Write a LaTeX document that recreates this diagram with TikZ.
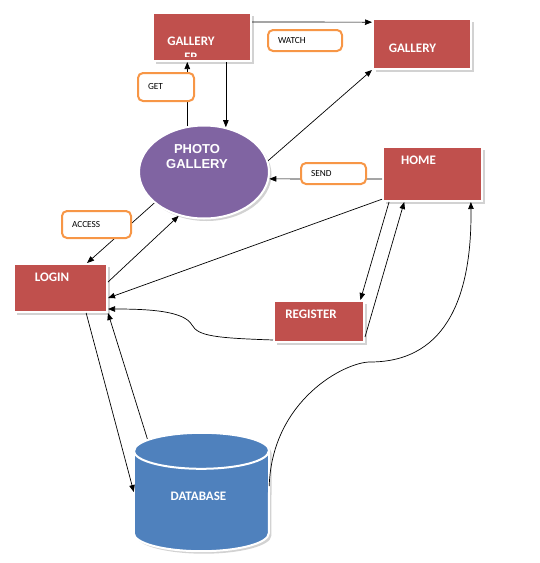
\documentclass[tikz,border=0pt]{standalone}
\usepackage{fontspec}
\newfontfamily\carlito{Carlito}
\newfontfamily\libsans{Liberation Sans}
\usetikzlibrary{shapes,arrows.meta,positioning,calc,shadows}
\definecolor{boxred}{HTML}{C0504D}
\definecolor{bubblepurple}{HTML}{8064A2}
\definecolor{dbblue}{HTML}{4F81BD}
\definecolor{tagorange}{HTML}{F79646}
\begin{document}
\begin{tikzpicture}[x=1pt, y=-1pt,
  castshadow/.style={drop shadow={shadow xshift=2.5pt, shadow yshift=-2.5pt, fill=black!35, opacity=0.5}},
  proc/.style={rectangle, fill=boxred, draw=white, line width=2pt, castshadow, inner sep=0pt},
  title/.style={inner sep=0pt, text=white, font=\carlito\bfseries\fontsize{13}{16}\selectfont},
  tag/.style={rectangle, draw=tagorange, line width=2pt, rounded corners=5pt, fill=white, align=left, inner xsep=10pt, inner ysep=0pt, font=\carlito\fontsize{9.3}{11}\selectfont},
  link/.style={line width=0.7pt, -{Triangle[length=7pt, width=5.5pt]}},
  drum/.style={x radius=67.5pt, y radius=18pt}]
  \useasboundingbox (0,0) rectangle (539,563);
  \node[proc, minimum width=98pt, minimum height=48pt] (gfr) at (202,37) {};
  \node[proc, minimum width=98pt, minimum height=50pt] (gal) at (422,44) {};
  \node[proc, minimum width=99pt, minimum height=54pt] (home) at (432.5,174) {};
  \node[proc, minimum width=93pt, minimum height=48pt] (login) at (60.5,288) {};
  \node[proc, minimum width=90pt, minimum height=41pt] (reg) at (319,321.5) {};
  \node[ellipse, fill=bubblepurple, draw=white, line width=2pt, castshadow, minimum width=130pt, minimum height=93pt, inner sep=0pt] (pg) at (204,172) {};
  % database drum
  \node[rectangle, minimum width=135pt, minimum height=118pt, inner sep=0pt] (db) at (201.5,492) {};
  \filldraw[fill=dbblue, draw=white, line width=2pt, castshadow]
    ($(db.north west)+(0,18)$) -- ($(db.south west)+(0,-18)$) arc[start angle=180, end angle=360, drum]
    -- ($(db.north east)+(0,18)$) arc[start angle=0, end angle=180, drum] -- cycle;
  \draw[white, line width=2pt] ($(db.north west)+(0,18)$) arc[start angle=180, end angle=360, drum];
  \begin{scope}
    \clip (gfr.north west) rectangle ($(gfr.east)+(0,19)$);
    \node[title, align=center] (gfrtext) at (191,49.5) {GALLERY\\FR};
  \end{scope}
  \node[title] (galtext) at (412.5,48) {GALLERY};
  \node[title] (hometext) at (418.5,160) {HOME};
  \node[title] (logintext) at (52,277) {LOGIN};
  \node[title] (regtext) at (311,314) {REGISTER};
  \node[title] (dbtext) at (198.5,496) {DATABASE};
  \node[title, align=center, font=\libsans\bfseries\fontsize{13}{15}\selectfont] (pgtext) at (197,156.5) {PHOTO\\GALLERY};
  \draw[link] ($(gfr.north east)!0.2!(gfr.south east)$) -- ($(gal.north west)!0.08!(gal.south west)$);
  \draw[link] (pg.64 |- gfr.south) -- (pg.64);
  \draw[link] (pg.110) -- (pg.110 |- gfr.south);
  \draw[link] (pg.10) -- (gal.south west);
  \draw[link] ($(home.north west)!0.59!(home.south west)$) -- (pg.-6);
  \draw[link] (pg.212) -- ($(login.north west)!0.78!(login.north east)$);
  \draw[link] ($(login.north east)!0.38!(login.south east)$) -- (pg.240);
  \draw[link] ($(home.north west)!0.95!(home.south west)$) -- ($(login.north east)!0.7!(login.south east)$);
  \draw[link] ($(home.south west)!0.07!(home.south east)$) -- ($(reg.north west)!0.95!(reg.north east)$);
  \draw[link] ($(reg.north east)!0.86!(reg.south east)$) -- ($(home.south west)!0.22!(home.south east)$);
  \draw[link] ($(reg.north west)!0.93!(reg.south west)$) .. controls (215,338) and (198,336) .. (192,325) .. controls (184,311) and (150,309) .. ($(login.north east)!0.92!(login.south east)$);
  \draw[link] (db.5) .. controls (272,400) and (345,362) .. (370,362) .. controls (450,362) and (472,290) .. ($(home.south west)!0.88!(home.south east)$);
  \draw[link] ($(login.south west)!0.77!(login.south east)$) -- (db.west);
  \draw[link] ($(db.north west)!0.1!(db.north east)+(0,6)$) -- (login.south east);
  \node[tag, text width=54pt, minimum height=21pt] (watch) at (305,40.5) {WATCH};
  \node[tag, text width=36pt, minimum height=28pt] (get) at (166,87) {GET};
  \node[tag, text width=45pt, minimum height=21pt] (send) at (333.5,173.5) {SEND};
  \node[tag, text width=49pt, minimum height=27pt] (access) at (96.5,224.5) {ACCESS};
\end{tikzpicture}
\end{document}
